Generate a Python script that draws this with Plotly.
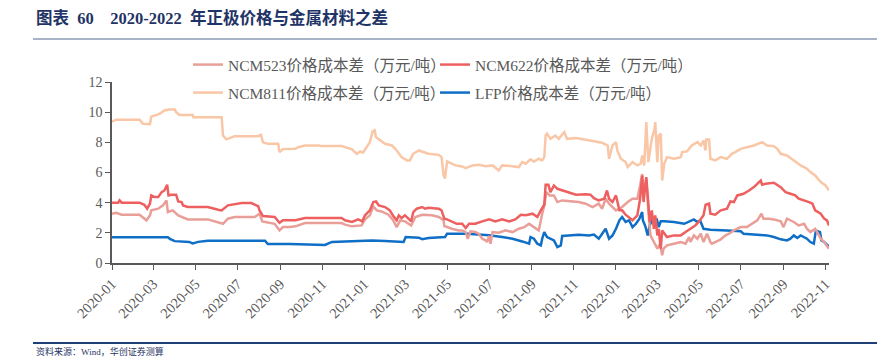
import pandas as pd
import plotly.graph_objects as go

START = "2020-01-01"

# ---- data (day offset from 2020-01-01, value in 万元/吨) ----
NCM811_DAY = [0, 6, 40, 45, 55, 57, 69, 76, 83, 91, 93, 98, 117, 118, 159, 161, 166, 173, 178, 212, 216, 219, 226, 241, 243, 248,
              258, 266, 270, 280, 300, 304, 333, 338, 348, 355, 360, 364, 370, 374, 378, 381, 383, 389, 396, 406, 413, 420, 428,
              432, 437, 445, 454, 459, 474, 478, 481, 483, 486, 493, 498, 508, 513, 523, 532, 542, 552, 561, 566, 580, 590, 595,
              600, 607, 612, 619, 624, 627, 629, 631, 636, 643, 648, 656, 660, 673, 692, 711, 719, 721, 726, 731, 733, 738, 745,
              748, 755, 762, 767, 769, 772, 775, 778, 783, 787, 788, 791, 793, 796, 798, 801, 805, 815, 825, 827, 834, 841, 849,
              854, 858, 861, 862, 866, 868, 875, 883, 892, 899, 904, 912, 921, 931, 943, 950, 960, 965, 970, 979, 989, 999, 1008,
              1013, 1020, 1028, 1035, 1040]
NCM811_VAL = [9.38, 9.5, 9.5, 9.23, 9.2, 9.7, 9.89, 10.11, 10.18, 10.18, 10.0, 9.82, 9.82, 9.67, 9.67, 8.45, 8.2, 8.34, 8.41, 8.41,
              8.5, 8.0, 7.9, 7.9, 7.35, 7.55, 7.55, 7.57, 7.68, 7.79, 7.79, 7.75, 7.75, 7.68, 7.53, 7.24, 7.4, 7.31, 7.79, 8.01,
              8.72, 8.79, 8.34, 8.12, 7.9, 7.79, 7.46, 7.02, 6.8, 6.8, 7.24, 7.46, 7.35, 7.24, 7.17, 7.02, 5.8, 5.6, 6.73, 6.58,
              6.47, 6.4, 6.29, 6.47, 6.51, 6.42, 6.47, 6.14, 6.47, 6.42, 6.36, 6.69, 6.58, 6.87, 6.73, 6.91, 6.8, 7.02, 8.45, 8.57,
              8.23, 8.45, 8.23, 8.68, 8.23, 8.28, 8.12, 7.97, 7.79, 6.91, 7.79, 8.01, 7.46, 6.91, 6.69, 6.36, 6.69, 6.47, 6.58,
              7.13, 6.47, 9.34, 6.69, 8.23, 8.9, 9.34, 6.69, 8.45, 8.57, 5.47, 6.58, 7.02, 6.91, 7.02, 7.35, 7.4, 7.79, 8.01, 7.79,
              8.12, 7.46, 8.19, 8.19, 6.91, 6.8, 7.02, 6.91, 7.24, 7.35, 7.57, 7.68, 7.79, 8.01, 7.79, 7.75, 7.57, 7.24, 7.13, 6.8,
              6.47, 6.25, 6.03, 5.81, 5.36, 5.14, 4.81]

NCM622_DAY = [0, 9, 11, 14, 40, 47, 51, 55, 57, 62, 67, 72, 76, 80, 82, 86, 93, 96, 101, 103, 110, 139, 154, 159, 168, 178, 188,
              202, 212, 214, 219, 236, 243, 248, 258, 266, 280, 333, 338, 348, 357, 363, 367, 374, 379, 383, 387, 396, 403, 408,
              413, 416, 420, 425, 430, 434, 437, 442, 450, 454, 459, 474, 478, 482, 486, 493, 500, 508, 513, 518, 527, 537, 547,
              556, 566, 576, 585, 593, 600, 610, 617, 622, 627, 629, 633, 636, 641, 646, 653, 663, 673, 687, 694, 699, 706, 714,
              718, 721, 726, 731, 736, 740, 745, 755, 762, 766, 769, 771, 775, 777, 780, 783, 786, 788, 791, 793, 796, 798, 801,
              805, 815, 825, 832, 839, 846, 851, 858, 861, 866, 868, 875, 883, 892, 897, 902, 907, 916, 924, 931, 941, 943, 948,
              960, 970, 977, 984, 991, 996, 1004, 1011, 1016, 1020, 1028, 1033, 1037, 1040]
NCM622_VAL = [4.0, 4.0, 4.15, 4.0, 4.0, 3.86, 3.6, 3.93, 4.48, 4.37, 4.37, 4.7, 4.81, 5.19, 4.48, 4.53, 4.53, 4.08, 4.04, 3.82,
              3.71, 3.71, 3.53, 3.49, 3.82, 3.89, 3.97, 3.97, 3.77, 3.49, 3.11, 3.05, 2.67, 2.83, 2.83, 2.83, 2.98, 2.98, 2.83,
              2.72, 2.89, 2.76, 3.16, 3.49, 4.04, 4.08, 3.82, 3.71, 3.49, 3.11, 2.83, 3.16, 2.98, 3.16, 2.94, 2.76, 3.38, 3.6,
              3.71, 3.6, 3.66, 3.6, 3.49, 2.94, 2.89, 2.72, 2.6, 2.6, 2.32, 2.6, 2.6, 2.76, 2.89, 2.76, 2.89, 2.76, 2.89, 3.2,
              3.16, 3.27, 3.05, 3.49, 3.86, 5.19, 5.19, 4.7, 5.14, 4.92, 4.81, 4.66, 4.53, 4.55, 4.53, 4.3, 4.15, 4.26, 4.81,
              4.26, 4.04, 4.48, 3.49, 3.49, 3.2, 2.83, 3.16, 4.26, 5.8, 4.04, 5.7, 4.48, 2.72, 3.49, 2.27, 3.16, 1.83, 2.27,
              0.95, 2.16, 1.94, 1.72, 1.83, 1.83, 2.05, 2.27, 2.49, 2.72, 3.16, 3.86, 3.93, 3.27, 3.2, 3.49, 3.6, 4.08, 4.04,
              4.48, 4.59, 4.81, 5.03, 5.47, 5.19, 5.25, 5.32, 5.03, 4.7, 4.59, 4.48, 4.26, 4.15, 4.04, 3.93, 3.49, 3.27, 2.94,
              2.83, 2.49]

NCM523_DAY = [0, 6, 14, 40, 50, 55, 57, 67, 74, 79, 81, 88, 96, 101, 110, 139, 154, 161, 168, 178, 207, 214, 218, 236, 243, 248,
              258, 266, 280, 333, 338, 348, 362, 367, 374, 379, 384, 391, 401, 408, 413, 418, 425, 434, 440, 450, 464, 474, 481,
              482, 493, 503, 508, 513, 516, 520, 527, 532, 537, 542, 544, 547, 549, 552, 561, 571, 581, 590, 598, 605, 612, 619,
              624, 627, 630, 635, 641, 646, 653, 668, 677, 687, 697, 706, 711, 716, 721, 726, 731, 740, 748, 755, 762, 766, 769,
              771, 775, 778, 781, 786, 791, 795, 798, 800, 805, 815, 825, 832, 837, 839, 844, 849, 854, 858, 863, 868, 870, 875,
              883, 890, 895, 902, 912, 921, 929, 936, 942, 945, 953, 960, 970, 974, 979, 989, 996, 1004, 1008, 1013, 1020, 1028,
              1033, 1037, 1040]
NCM523_VAL = [3.27, 3.33, 3.2, 3.2, 2.83, 3.16, 3.49, 3.6, 3.82, 4.15, 3.38, 3.49, 3.16, 3.05, 2.89, 2.89, 2.67, 2.6, 2.94, 3.05,
              3.05, 3.27, 2.76, 2.6, 2.16, 2.38, 2.38, 2.43, 2.65, 2.65, 2.54, 2.43, 2.49, 2.89, 3.16, 3.75, 3.49, 3.42, 3.2,
              2.83, 2.38, 2.83, 2.76, 2.49, 3.05, 3.2, 3.16, 3.05, 2.83, 2.45, 2.27, 2.16, 2.16, 2.05, 1.6, 2.1, 2.05, 1.94, 1.61,
              1.5, 1.39, 1.8, 1.28, 2.05, 2.01, 2.16, 2.05, 2.27, 2.38, 2.6, 2.38, 2.16, 3.27, 3.82, 4.7, 4.48, 4.48, 4.04, 4.15,
              4.08, 4.04, 3.93, 3.71, 3.93, 3.6, 4.26, 3.93, 3.71, 3.49, 3.71, 4.04, 4.26, 4.26, 5.14, 5.9, 4.7, 5.58, 3.38, 1.83,
              1.39, 0.95, 1.28, 0.51, 0.95, 1.17, 1.28, 1.39, 1.28, 1.72, 1.39, 1.83, 1.61, 1.94, 1.39, 1.94, 1.39, 1.28, 1.39,
              1.57, 1.83, 1.94, 2.16, 2.38, 2.38, 2.6, 2.83, 3.27, 2.94, 2.94, 2.89, 2.76, 2.38, 2.94, 2.72, 2.49, 2.6, 2.27,
              2.05, 2.27, 1.61, 1.39, 1.17, 0.95]

LFP_DAY = [0, 81, 84, 91, 112, 117, 125, 139, 222, 226, 258, 309, 319, 362, 377, 396, 423, 426, 445, 450, 459, 483, 486, 515,
           547, 566, 581, 595, 605, 607, 612, 617, 622, 624, 627, 631, 636, 641, 646, 651, 653, 663, 677, 692, 699, 706, 711,
           716, 721, 726, 731, 736, 740, 745, 750, 755, 760, 765, 769, 770, 774, 777, 780, 783, 787, 790, 793, 796, 801, 815,
           830, 839, 844, 849, 853, 858, 868, 892, 912, 916, 936, 950, 960, 970, 979, 984, 989, 994, 999, 1004, 1008, 1013,
           1018, 1021, 1027, 1029, 1033, 1037, 1041]
LFP_VAL = [1.7, 1.7, 1.6, 1.45, 1.4, 1.3, 1.4, 1.48, 1.48, 1.26, 1.26, 1.2, 1.4, 1.46, 1.5, 1.46, 1.4, 1.72, 1.68, 1.58, 1.66,
           1.72, 1.94, 1.94, 1.84, 1.72, 1.61, 1.43, 1.28, 1.72, 1.61, 1.28, 1.17, 1.61, 2.05, 1.72, 1.61, 1.5, 1.06, 1.17,
           1.79, 1.83, 1.88, 1.83, 1.88, 1.61, 1.94, 2.27, 1.61, 1.83, 2.27, 2.83, 3.05, 2.72, 2.83, 2.38, 2.6, 2.94, 3.38,
           2.83, 2.38, 1.83, 2.49, 2.83, 2.6, 2.94, 2.38, 2.76, 2.76, 2.72, 2.6, 2.76, 2.89, 2.72, 2.83, 2.27, 2.21, 2.16, 2.1,
           1.94, 1.88, 1.83, 1.72, 1.57, 1.5, 1.61, 1.83, 1.66, 1.83, 1.72, 1.61, 1.39, 1.28, 2.16, 2.05, 1.5, 1.39, 1.21, 1.06]

SERIES = [
    ("NCM523价格成本差（万元/吨）", NCM523_DAY, NCM523_VAL, "#E99E98", "legend"),
    ("NCM622价格成本差（万元/吨）", NCM622_DAY, NCM622_VAL, "#EE5F5F", "legend"),
    ("NCM811价格成本差（万元/吨）", NCM811_DAY, NCM811_VAL, "#F9C6A6", "legend2"),
    ("LFP价格成本差（万元/吨）", LFP_DAY, LFP_VAL, "#0F6FC6", "legend2"),
]
Y_TICKS = [0, 2, 4, 6, 8, 10, 12]
NB = "\u00a0"
TITLE = "图表" + NB * 2 + "60" + NB * 4 + "2020-2022" + NB * 2 + "年正极价格与金属材料之差"
SOURCE = "资料来源：Wind，华创证券测算"

# ---- geometry (the page has an 8px body margin; figure sized to fit the window) ----
OFF = 8
W, H = 885 - OFF, 357 - OFF
PLOT_X0, PLOT_X1 = 112, 829      # page pixels
PLOT_Y0, PLOT_Y1 = 82, 263       # page pixels (top, bottom)
L = PLOT_X0 - OFF
R = W - (PLOT_X1 - OFF)
T = PLOT_Y0 - OFF
B = H - (PLOT_Y1 - OFF)
PW, PH = W - L - R, H - T - B


def px(x):
    """page pixel x -> paper"""
    return (x - PLOT_X0) / PW


def py(y):
    """page pixel y -> paper"""
    return (PLOT_Y1 - y) / PH


SERIF = "Liberation Serif, Times New Roman, Noto Sans CJK SC, serif"
GRAY = "#595959"

fig = go.Figure()
start = pd.Timestamp(START)
order = [2, 3, 0, 1]
for i in order:
    name, days, vals, color, lg = SERIES[i]
    dates = start + pd.to_timedelta(days, unit="D")
    fig.add_trace(go.Scatter(x=dates, y=vals, mode="lines", name=name,
                             line=dict(color=color, width=2.5), legend=lg,
                             legendrank=i))

legend_common = dict(orientation="h", xanchor="left", yanchor="middle",
                     font=dict(family=SERIF, size=15.5, color=GRAY),
                     bgcolor="rgba(0,0,0,0)", entrywidth=202, traceorder="normal")

fig.update_layout(
    width=W, height=H,
    margin=dict(l=L, r=R, t=T, b=B, autoexpand=False),
    paper_bgcolor="white", plot_bgcolor="white",
    showlegend=True,
    legend=dict(x=px(188), y=py(65), **legend_common),
    legend2=dict(x=px(188), y=py(93), **legend_common),
    xaxis=dict(type="date", range=["2020-01-01", "2022-11-06"], tick0="2020-01-01", dtick="M2",
               tickformat="%Y-%m", tickangle=-45, showgrid=False, zeroline=False, automargin=False,
               showline=True, linecolor=GRAY, linewidth=1.5, ticks="outside", ticklen=5,
               tickcolor=GRAY, tickwidth=1.2,
               tickfont=dict(family=SERIF, size=14.5, color=GRAY)),
    yaxis=dict(range=[0, 12], tickvals=Y_TICKS, showgrid=False, zeroline=False, automargin=False,
               showline=True, linecolor=GRAY, linewidth=1.5, ticks="outside", ticklen=5,
               tickcolor=GRAY, tickwidth=1.2,
               tickfont=dict(family=SERIF, size=14, color=GRAY)),
    shapes=[
        dict(type="line", xref="paper", yref="paper", x0=px(33), x1=px(900), y0=py(39), y1=py(39),
             line=dict(color="#8A9AB5", width=1.5)),
        dict(type="line", xref="paper", yref="paper", x0=px(33), x1=px(900), y0=py(343), y1=py(343),
             line=dict(color="#1F3F77", width=2)),
    ],
    annotations=[
        dict(text="<b>" + TITLE + "</b>", xref="paper", yref="paper", x=px(34), y=py(18),
             xanchor="left", yanchor="middle", showarrow=False,
             font=dict(family=SERIF, size=16.5, color="#1F3466")),
        dict(text=SOURCE, xref="paper", yref="paper", x=px(34), y=py(344),
             xanchor="left", yanchor="top", showarrow=False,
             font=dict(family=SERIF, size=9, color="#1F3466")),
    ],
)

fig.write_html("out.html")
